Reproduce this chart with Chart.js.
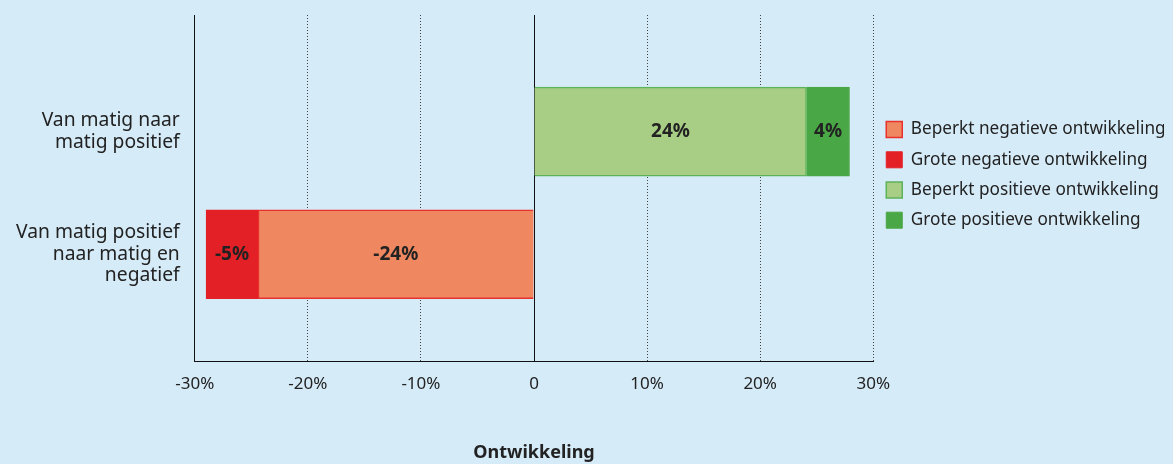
<!DOCTYPE html>
<html lang="nl">
<head>
<meta charset="utf-8">
<script src="https://cdn.jsdelivr.net/npm/chart.js@4"></script>
<style>
  html, body { margin: 0; padding: 0; background: #d6ebf8; }
  #wrap { width: 1173px; height: 464px; }
</style>
</head>
<body>
<div id="wrap"><canvas id="barChart"></canvas></div>
<script>
// categorieën (van boven naar beneden)
const categories = [
  ['Van matig naar', 'matig positief'],
  ['Van matig positief', 'naar matig en', 'negatief']
];

// waarden per reeks, in %, per categorie
const beperktNegatief = [null, -24.4];
const groteNegatief   = [null, -4.6];
const beperktPositief = [24.1, null];
const grotePositief   = [3.8, null];

const xTicks = [-30, -20, -10, 0, 10, 20, 30];

const FONT = '"Noto Sans", sans-serif';

// bar-data voor een lineaire y-as (index 0 = bovenste categorie)
function toPoints(values) {
  return values
    .map((v, i) => ({ x: v, y: i }))
    .filter(p => p.x !== null);
}

// labels midden in de balken
const barLabels = {
  id: 'barLabels',
  afterDatasetsDraw(chart) {
    const ctx = chart.ctx;
    ctx.save();
    ctx.font = 'bold 19px ' + FONT;
    ctx.fillStyle = '#222';
    ctx.textAlign = 'center';
    ctx.textBaseline = 'middle';
    chart.data.datasets.forEach((ds, di) => {
      const meta = chart.getDatasetMeta(di);
      meta.data.forEach((bar, i) => {
        const { x, y, base } = bar.getProps(['x', 'y', 'base'], true);
        const v = ds.data[i].x;
        ctx.fillText(Math.round(v) + '%', (x + base) / 2, y);
      });
    });
    ctx.restore();
  }
};

// doorgetrokken nullijn onder de balken
const zeroLine = {
  id: 'zeroLine',
  beforeDatasetsDraw(chart) {
    const { ctx, chartArea, scales } = chart;
    const x0 = Math.round(scales.x.getPixelForValue(0)) + 0.5;
    ctx.save();
    ctx.strokeStyle = '#111';
    ctx.lineWidth = 1;
    ctx.beginPath();
    ctx.moveTo(x0, chartArea.top);
    ctx.lineTo(x0, chartArea.bottom);
    ctx.stroke();
    ctx.restore();
  }
};

window.addEventListener('load', function() {
  const ctx = document.getElementById('barChart').getContext('2d');
  new Chart(ctx, {
    type: 'bar',
    data: {
      datasets: [
        {
          label: 'Beperkt negatieve ontwikkeling',
          data: toPoints(beperktNegatief),
          backgroundColor: '#ef8860',
          borderColor: '#e8302c',
          borderWidth: 1.5
        },
        {
          label: 'Grote negatieve ontwikkeling',
          data: toPoints(groteNegatief),
          backgroundColor: '#e32026',
          borderColor: '#e32026',
          borderWidth: 1
        },
        {
          label: 'Beperkt positieve ontwikkeling',
          data: toPoints(beperktPositief),
          backgroundColor: '#a8cd84',
          borderColor: '#5db35a',
          borderWidth: 1.5
        },
        {
          label: 'Grote positieve ontwikkeling',
          data: toPoints(grotePositief),
          backgroundColor: '#4aa745',
          borderColor: '#4aa745',
          borderWidth: 1
        }
      ]
    },
    options: {
      indexAxis: 'y',
      responsive: true,
      maintainAspectRatio: false,
      animation: false,
      grouped: false,
      barThickness: 89,
      layout: { padding: { top: 15, left: 1, right: 9, bottom: 0 } },
      scales: {
        x: {
          type: 'linear',
          stacked: true,
          min: -30,
          max: 30,
          afterBuildTicks: (scale) => { scale.ticks = xTicks.map(v => ({ value: v })); },
          ticks: {
            padding: 13,
            color: '#222',
            font: { family: FONT, size: 17 },
            callback: (v) => v === 0 ? '0' : v + '%'
          },
          grid: {
            drawTicks: false,
            color: (c) => (c.tick && c.tick.value === 0) ? 'rgba(0,0,0,0)' : '#444'
          },
          border: { display: true, color: '#111', width: 1, dash: [1, 2] },
          title: {
            display: true,
            text: 'Ontwikkeling',
            color: '#222',
            font: { family: FONT, size: 18, weight: 'bold' },
            padding: { top: 35, bottom: 0 }
          }
        },
        y: {
          type: 'linear',
          reverse: true,
          offset: false,
          min: -0.95,
          max: 1.87,
          afterBuildTicks: (scale) => { scale.ticks = categories.map((c, i) => ({ value: i })); },
          afterFit: (scale) => { scale.paddingTop = 0; scale.paddingBottom = 0; },
          ticks: {
            padding: 15,
            color: '#222',
            font: { family: FONT, size: 19.3, lineHeight: 1.12 },
            callback: (v) => categories[v]
          },
          grid: { display: false, drawTicks: false },
          border: { display: true, color: '#111', width: 1 }
        }
      },
      plugins: {
        legend: {
          position: 'right',
          align: 'start',
          title: {
            display: true,
            text: ' ',
            font: { family: FONT, size: 10, lineHeight: 1 },
            padding: { top: 83, bottom: 0 }
          },
          labels: {
            boxWidth: 16,
            boxHeight: 16,
            padding: 13,
            color: '#222',
            font: { family: FONT, size: 17.2 }
          }
        },
        tooltip: { enabled: false }
      }
    },
    plugins: [zeroLine, barLabels]
  });
});
</script>
</body>
</html>
